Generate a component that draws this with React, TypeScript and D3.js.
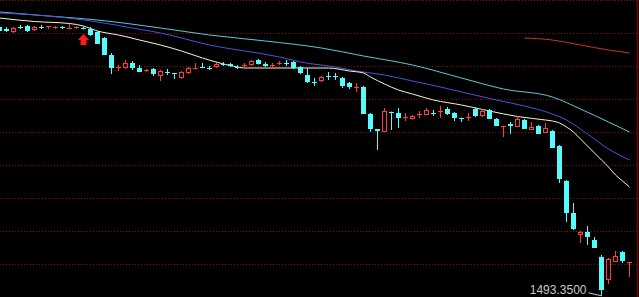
import React, { useEffect, useRef } from 'react';
import * as d3 from 'd3';

const W = 639;
const H = 297;

// Daily OHLC, one entry per trading session
const opens = [
  1708.4, 1706.8, 1704.4, 1708.4, 1709.2, 1706.0, 1708.4, 1708.8, 1708.4, 1708.8,
  1707.6, 1708.4, 1707.2, 1706.8, 1704.4, 1699.6, 1686.0, 1675.6, 1675.6, 1679.6,
  1675.6, 1673.2, 1674.8, 1669.2, 1672.4, 1671.2, 1667.6, 1671.6, 1675.2, 1676.4,
  1676.0, 1676.4, 1678.8, 1678.8, 1676.8, 1677.6, 1678.0, 1682.0, 1678.4, 1677.6,
  1678.8, 1680.0, 1680.4, 1676.4, 1670.0, 1664.8, 1665.2, 1669.6, 1669.6, 1667.6,
  1663.6, 1660.0, 1660.4, 1638.8, 1626.8, 1624.4, 1640.8, 1639.6, 1636.0, 1634.8,
  1638.4, 1638.0, 1640.0, 1640.8, 1642.8, 1639.6, 1636.0, 1636.0, 1642.8, 1637.2,
  1642.0, 1634.8, 1628.8, 1630.4, 1628.4, 1634.0, 1626.0, 1629.2, 1623.6, 1625.2,
  1613.2, 1585.2, 1559.6, 1542.0, 1544.4, 1538.0, 1524.4, 1506.0, 1520.4, 1528.4,
  1520.0,
];
const highs = [
  1709.2, 1708.4, 1708.4, 1710.0, 1710.0, 1709.2, 1710.0, 1709.2, 1709.2, 1709.2,
  1710.8, 1709.2, 1709.2, 1708.4, 1705.2, 1700.4, 1687.6, 1678.0, 1682.0, 1681.2,
  1678.0, 1674.8, 1675.6, 1674.0, 1674.8, 1671.2, 1673.2, 1676.4, 1679.6, 1679.6,
  1677.2, 1679.6, 1680.4, 1679.6, 1678.0, 1679.6, 1682.0, 1682.8, 1680.4, 1679.6,
  1681.2, 1682.0, 1681.2, 1677.2, 1675.6, 1667.6, 1669.2, 1672.4, 1671.6, 1668.4,
  1664.4, 1663.6, 1661.2, 1639.6, 1626.8, 1643.6, 1640.8, 1643.6, 1639.6, 1638.0,
  1641.2, 1643.6, 1642.0, 1645.2, 1644.4, 1640.4, 1636.0, 1639.6, 1644.4, 1642.8,
  1642.8, 1635.6, 1629.6, 1632.4, 1637.2, 1634.8, 1632.4, 1630.0, 1631.6, 1626.0,
  1614.0, 1586.0, 1567.6, 1545.2, 1549.2, 1540.4, 1526.0, 1523.6, 1529.2, 1529.2,
  1520.4,
];
const lows = [
  1704.4, 1704.4, 1703.6, 1706.8, 1704.4, 1705.2, 1706.8, 1706.8, 1706.8, 1706.8,
  1707.6, 1706.8, 1706.4, 1701.2, 1694.8, 1686.0, 1670.8, 1673.2, 1674.8, 1674.0,
  1672.4, 1672.4, 1669.2, 1665.2, 1670.0, 1666.8, 1666.8, 1670.8, 1675.2, 1675.6,
  1674.0, 1675.6, 1677.2, 1676.4, 1674.8, 1676.4, 1677.2, 1678.4, 1676.4, 1676.4,
  1678.0, 1677.2, 1674.8, 1670.8, 1663.6, 1661.2, 1664.4, 1666.0, 1666.0, 1659.6,
  1658.8, 1656.4, 1638.8, 1624.4, 1610.0, 1624.4, 1626.0, 1627.6, 1633.2, 1634.4,
  1635.6, 1638.0, 1637.2, 1635.6, 1638.0, 1633.2, 1632.4, 1633.2, 1636.4, 1636.4,
  1634.8, 1629.2, 1620.4, 1622.8, 1628.4, 1626.8, 1626.0, 1622.8, 1623.6, 1611.6,
  1583.6, 1552.4, 1546.0, 1535.6, 1534.0, 1531.6, 1493.35, 1502.8, 1520.4, 1519.6,
  1508.4,
];
const closes = [
  1705.2, 1705.6, 1707.6, 1708.0, 1705.2, 1708.4, 1708.0, 1709.2, 1708.8, 1707.6,
  1708.0, 1708.8, 1706.4, 1702.0, 1694.8, 1686.0, 1675.6, 1676.4, 1679.6, 1675.6,
  1672.4, 1674.0, 1670.8, 1673.2, 1671.8, 1670.4, 1672.4, 1675.6, 1675.6, 1675.6,
  1675.2, 1678.4, 1678.0, 1677.2, 1676.0, 1678.0, 1681.2, 1678.8, 1677.6, 1678.0,
  1679.6, 1679.2, 1675.6, 1671.6, 1664.4, 1664.0, 1668.4, 1668.8, 1668.8, 1661.2,
  1660.4, 1660.4, 1638.8, 1626.8, 1625.2, 1641.2, 1640.0, 1635.6, 1636.4, 1637.2,
  1638.8, 1642.0, 1639.2, 1641.2, 1638.8, 1635.6, 1635.2, 1636.4, 1637.2, 1641.2,
  1634.8, 1629.2, 1629.2, 1629.6, 1634.8, 1626.8, 1628.4, 1622.8, 1627.6, 1611.6,
  1586.8, 1559.6, 1546.8, 1544.4, 1540.4, 1531.6, 1498.0, 1522.8, 1525.2, 1521.2,
  1520.4,
];

// Moving averages as [session index, price]
const maWhite: [number, number][] = [
  [0, 1715.6], [5, 1712.8], [10, 1711.2], [12, 1709.2], [14, 1705.2], [17, 1702.0],
  [20, 1698.0], [23, 1694.0], [26, 1689.2], [29, 1683.6], [32, 1678.8], [34, 1676.4],
  [35, 1675.6], [47, 1675.6], [50, 1673.2], [52, 1671.6], [53, 1668.4], [55, 1662.8],
  [57, 1658.0], [59, 1654.8], [62, 1650.0], [66, 1646.0], [70, 1641.2], [74, 1636.8],
  [78, 1634.0], [79, 1633.2], [80, 1631.6], [81, 1628.4], [82, 1624.4], [83, 1618.8],
  [84, 1613.2], [85, 1607.6], [86, 1602.0], [87, 1596.4], [88, 1590.0], [89, 1585.2],
  [90, 1580.4],
];
const maBlue: [number, number][] = [
  [0, 1719.6], [7, 1717.2], [14, 1712.4], [19, 1707.6], [23, 1703.6], [30, 1694.0],
  [40, 1684.4], [43, 1680.4], [48, 1676.4], [51, 1673.2], [55, 1670.0], [59, 1665.2],
  [63, 1660.4], [66, 1656.4], [71, 1650.0], [75, 1645.2], [79, 1638.8], [81, 1634.0],
  [84, 1622.8], [87, 1610.8], [90, 1602.0],
];
const maCyan: [number, number][] = [
  [0, 1720.4], [7, 1717.2], [14, 1714.0], [23, 1707.6], [30, 1702.0], [38, 1697.2],
  [46, 1691.6], [52, 1685.2], [59, 1678.0], [66, 1667.6], [72, 1658.8], [79, 1652.4],
  [83, 1642.8], [87, 1632.4], [90, 1624.4],
];
const maRed: [number, number][] = [
  [75, 1699.6], [79, 1698.0], [83, 1694.0], [87, 1690.0], [90, 1687.6],
];

// Horizontal reference levels
const gridPrices = [1730, 1703.6, 1677.2, 1650.8, 1624.4, 1598.0, 1571.6, 1545.2, 1518.8];

// Buy-signal marker session
const signalIndex = 12;

const UP = '#ff3c3c';
const DOWN = '#54fcfc';

export default function App() {
  const ref = useRef<SVGSVGElement>(null);

  useEffect(() => {
    document.body.style.margin = '0';
    document.body.style.background = '#000';
    const svg = d3.select(ref.current);
    svg.selectAll('*').remove();

    const x = d3.scaleLinear().domain([0, 90]).range([-1, 629]);
    const y = d3.scaleLinear().domain([1730, 1492.4]).range([0, H]);

    svg.append('rect').attr('width', W).attr('height', H).attr('fill', '#000');

    // dotted grid
    svg
      .append('g')
      .selectAll('line')
      .data(gridPrices)
      .join('line')
      .attr('x1', 0)
      .attr('x2', 637)
      .attr('y1', (d) => Math.round(y(d)) + 0.5)
      .attr('y2', (d) => Math.round(y(d)) + 0.5)
      .attr('stroke', '#960a0a')
      .attr('stroke-width', 1)
      .attr('stroke-dasharray', '1 2');

    // right frame edge
    svg
      .append('line')
      .attr('x1', 637.5)
      .attr('x2', 637.5)
      .attr('y1', 0)
      .attr('y2', H)
      .attr('stroke', '#800000')
      .attr('stroke-width', 1.5);

    // moving averages
    const line = d3
      .line<[number, number]>()
      .x((d) => x(d[0]) + 0.5)
      .y((d) => y(d[1]))
      .curve(d3.curveMonotoneX);
    const mas: [[number, number][], string][] = [
      [maRed, '#c83232'],
      [maCyan, '#5ccad2'],
      [maBlue, '#5050dc'],
      [maWhite, '#f4f4d2'],
    ];
    mas.forEach(([pts, color]) => {
      svg
        .append('path')
        .attr('d', line(pts))
        .attr('fill', 'none')
        .attr('stroke', color)
        .attr('stroke-width', 1);
    });

    // candles
    const g = svg.append('g');
    opens.forEach((o, i) => {
      const c = closes[i];
      const hi = highs[i];
      const lo = lows[i];
      const cx = Math.round(x(i));
      const up = c >= o;
      const color = up ? UP : DOWN;
      const top = Math.round(y(Math.max(o, c)));
      let bot = Math.round(y(Math.min(o, c)));
      if (bot - top < 1) bot = top + 1;
      const yH = y(hi);
      const yL = y(lo);
      if (up) {
        if (yH < top)
          g.append('line').attr('x1', cx + 0.5).attr('x2', cx + 0.5).attr('y1', yH).attr('y2', top).attr('stroke', color);
        if (yL > bot)
          g.append('line').attr('x1', cx + 0.5).attr('x2', cx + 0.5).attr('y1', bot).attr('y2', yL).attr('stroke', color);
        if (bot - top >= 3) {
          g.append('rect')
            .attr('x', cx - 1.5)
            .attr('y', top + 0.5)
            .attr('width', 4)
            .attr('height', bot - top - 1)
            .attr('fill', 'none')
            .attr('stroke', color);
        } else {
          g.append('rect').attr('x', cx - 2).attr('y', top).attr('width', 5).attr('height', bot - top).attr('fill', color);
        }
      } else {
        g.append('line').attr('x1', cx + 0.5).attr('x2', cx + 0.5).attr('y1', yH).attr('y2', yL).attr('stroke', color);
        g.append('rect').attr('x', cx - 2).attr('y', top).attr('width', 5).attr('height', bot - top).attr('fill', color);
      }
    });

    // buy-signal arrow under the session
    const ax = Math.round(x(signalIndex)) + 0.5;
    const ay = Math.round(y(lows[signalIndex])) + 5;
    svg
      .append('path')
      .attr(
        'd',
        `M${ax},${ay} L${ax + 5.5},${ay + 6} L${ax + 3},${ay + 6} L${ax + 3},${ay + 11} L${ax - 3},${ay + 11} L${ax - 3},${ay + 6} L${ax - 5.5},${ay + 6} Z`
      )
      .attr('fill', '#ff1a1a');

    // lowest price annotation
    const minIdx = d3.minIndex(lows);
    const lx = x(minIdx) + 0.5;
    const ly = y(lows[minIdx]);
    svg
      .append('line')
      .attr('x1', lx - 13)
      .attr('y1', ly - 3)
      .attr('x2', lx)
      .attr('y2', ly)
      .attr('stroke', '#c8c8c8')
      .attr('stroke-width', 1);
    svg
      .append('text')
      .attr('x', lx - 15)
      .attr('y', ly - 1.5)
      .attr('text-anchor', 'end')
      .attr('font-family', '"Liberation Sans", Arial, sans-serif')
      .attr('font-size', 12)
      .attr('fill', '#c8c8c8')
      .text(d3.format('.4f')(lows[minIdx]));
  }, []);

  return <svg ref={ref} width={W} height={H} style={{ display: 'block' }} />;
}
